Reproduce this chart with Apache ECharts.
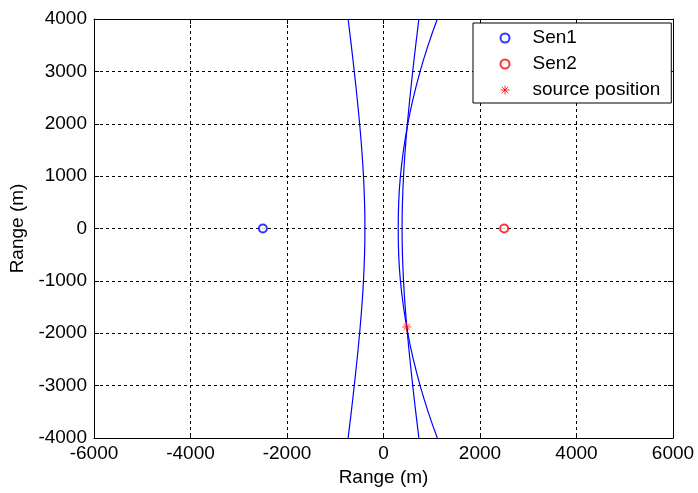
<!DOCTYPE html>
<html><head><meta charset="utf-8">
<script src="https://cdn.jsdelivr.net/npm/echarts@6/dist/echarts.min.js"></script>
<style>html,body{margin:0;padding:0;background:#fff}#c{width:698px;height:493px}</style>
</head><body><div id="c"></div>
<script>
// ---- data ----
const yPts      = [-4000,-3500,-3000,-2500,-2000,-1500,-1000,-500,0,500,1000,1500,2000,2500,3000,3500,4000];
const hypLeftX  = [-733,-668,-606,-548,-495,-450,-415,-393,-385,-393,-415,-450,-495,-548,-606,-668,-733];
const hypRightX = [733,668,606,548,495,450,415,393,385,393,415,450,495,548,606,668,733];
const curve3X   = [1116,925,759,619,504,415,351,315,305,315,351,415,504,619,759,925,1116];
const sen1 = [-2500, 0];
const sen2 = [2500, 0];
const source = [480, -1880];
const legendNames = ['Sen1', 'Sen2', 'source position'];
const xLimits = [-6000, 6000], xStep = 2000;
const yLimits = [-4000, 4000], yStep = 1000;
const axisTitle = 'Range (m)';

const FONT = 'Liberation Sans, Arial, sans-serif';
const star = 'path://M5,0L5,10M0,5L10,5M1.5,1.5L8.5,8.5M1.5,8.5L8.5,1.5';
const pairs = xs => xs.map((x, i) => [x, yPts[i]]);
const plain = v => String(v);

const lineSeries = (xs) => ({
  type: 'line', data: pairs(xs), showSymbol: false, smooth: true, silent: true,
  lineStyle: { color: '#0000ff', width: 1.2 }, z: 3
});

const baseAxis = {
  type: 'value',
  axisLine: { show: true, onZero: false, lineStyle: { color: '#000', width: 1 } },
  axisTick: { show: true, inside: true, length: 5, lineStyle: { color: '#000' } },
};

const option = {
  animation: false,
  backgroundColor: '#fff',
  grid: { left: 94, right: 25, top: 19, bottom: 55, containLabel: false },
  xAxis: [
    Object.assign({}, baseAxis, {
      min: xLimits[0], max: xLimits[1], interval: xStep, position: 'bottom',
      axisLabel: { color: '#000', fontSize: 19, margin: 6, fontFamily: FONT, formatter: plain },
      splitLine: { show: true, lineStyle: { color: '#000', width: 1, type: [3, 3] } },
      name: axisTitle, nameLocation: 'middle', nameGap: 28,
      nameTextStyle: { color: '#000', fontSize: 19, fontFamily: FONT }
    }),
    Object.assign({}, baseAxis, {
      min: xLimits[0], max: xLimits[1], interval: xStep, position: 'top',
      axisLabel: { show: false }, splitLine: { show: false }
    })
  ],
  yAxis: [
    Object.assign({}, baseAxis, {
      min: yLimits[0], max: yLimits[1], interval: yStep, position: 'left',
      axisLabel: { color: '#000', fontSize: 19, margin: 7, fontFamily: FONT, formatter: plain },
      splitLine: { show: true, lineStyle: { color: '#000', width: 1, type: [3, 3] } },
      name: axisTitle, nameLocation: 'middle', nameGap: 64,
      nameTextStyle: { color: '#000', fontSize: 19, fontFamily: FONT }
    }),
    Object.assign({}, baseAxis, {
      min: yLimits[0], max: yLimits[1], interval: yStep, position: 'right',
      axisLabel: { show: false }, splitLine: { show: false }
    })
  ],
  legend: {
    orient: 'vertical', left: 473, top: 23,
    padding: [4, 11, 2, 25], itemGap: 4, itemWidth: 9, itemHeight: 9,
    backgroundColor: '#fff', borderColor: '#000', borderWidth: 1, borderRadius: 0,
    selectedMode: false,
    textStyle: { color: '#000', fontSize: 19, lineHeight: 22, fontFamily: FONT, padding: [0, 0, 0, 18] },
    data: [
      { name: legendNames[0], icon: 'circle', itemStyle: { color: '#fff', borderColor: '#0000ff', borderWidth: 2 } },
      { name: legendNames[1], icon: 'circle', itemStyle: { color: '#fff', borderColor: '#ff0000', borderWidth: 2 } },
      { name: legendNames[2], icon: star, itemStyle: { color: 'none', borderColor: '#ff0000', borderWidth: 1 } }
    ]
  },
  series: [
    lineSeries(hypLeftX),
    lineSeries(hypRightX),
    lineSeries(curve3X),
    { name: legendNames[0], type: 'scatter', data: [sen1], symbol: 'circle', symbolSize: 8,
      itemStyle: { color: '#fff', borderColor: '#0000ff', borderWidth: 2 }, z: 5 },
    { name: legendNames[1], type: 'scatter', data: [sen2], symbol: 'circle', symbolSize: 8,
      itemStyle: { color: '#fff', borderColor: '#ff0000', borderWidth: 2 }, z: 5 },
    { name: legendNames[2], type: 'scatter', data: [source], symbol: star, symbolSize: 9,
      itemStyle: { color: 'none', borderColor: '#ff0000', borderWidth: 1 }, z: 6 }
  ]
};
const chart = echarts.init(document.getElementById('c'), null, { renderer: 'canvas' });
chart.setOption(option);
</script></body></html>
